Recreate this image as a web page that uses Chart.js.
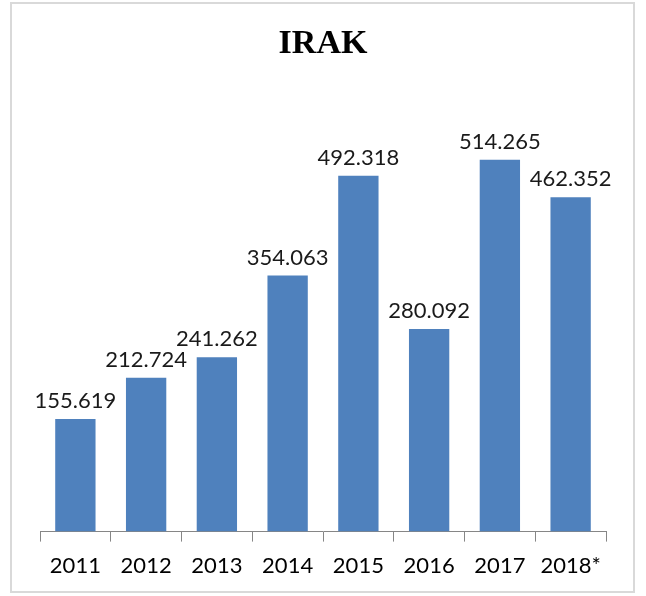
<!DOCTYPE html>
<html><head><meta charset="utf-8">
<script src="https://cdn.jsdelivr.net/npm/chart.js@4"></script>
<style>html,body{margin:0;padding:0;background:#fff}#wrap{width:646px;height:596px;position:relative}</style>
</head><body><div id="wrap"><canvas id="c" width="646" height="596"></canvas></div>
<script>
const categories = ['2011','2012','2013','2014','2015','2016','2017','2018*'];
const values = [155.619, 212.724, 241.262, 354.063, 492.318, 280.092, 514.265, 462.352];
const valueLabels = ['155.619','212.724','241.262','354.063','492.318','280.092','514.265','462.352'];
const titleText = 'IRAK';

const frame = {
  id: 'frame',
  beforeDraw(chart) {
    const ctx = chart.ctx;
    ctx.save();
    ctx.fillStyle = '#fff';
    ctx.fillRect(0, 0, chart.width, chart.height);
    ctx.strokeStyle = '#d9d9d9';
    ctx.lineWidth = 2;
    ctx.strokeRect(11, 3, 623, 589);
    ctx.restore();
  }
};
const labelsPlugin = {
  id: 'vlabels',
  afterDatasetsDraw(chart) {
    const ctx = chart.ctx;
    const meta = chart.getDatasetMeta(0);
    ctx.save();
    ctx.font = '22px Lato';
    ctx.fillStyle = '#1a1a1a';
    ctx.textAlign = 'center';
    ctx.textBaseline = 'bottom';
    meta.data.forEach((bar, i) => {
      ctx.fillText(valueLabels[i], bar.x, bar.y - 7);
    });
    ctx.restore();
  }
};

new Chart(document.getElementById('c'), {
  type: 'bar',
  data: {
    labels: categories,
    datasets: [{
      data: values,
      backgroundColor: '#4F81BD',
      borderWidth: 0,
      categoryPercentage: 1,
      barPercentage: 0.57
    }]
  },
  options: {
    responsive: false,
    animation: false,
    devicePixelRatio: 1,
    layout: { padding: { left: 40, right: 40, top: 0, bottom: 6 } },
    plugins: {
      legend: { display: false },
      tooltip: { enabled: false },
      title: {
        display: true,
        text: titleText,
        color: '#000',
        font: { family: 'Liberation Serif', size: 34, weight: 'bold' },
        padding: { top: 24, bottom: 33 }
      }
    },
    scales: {
      y: { display: false, min: 0, max: 600 },
      x: {
        offset: true,
        grid: { display: true, drawOnChartArea: false, drawTicks: true, tickLength: 10, color: '#868686', offset: true },
        border: { display: true, color: '#868686', width: 1 },
        ticks: { color: '#000', font: { family: 'Lato', size: 22 }, padding: 11, maxRotation: 0 }
      }
    }
  },
  plugins: [frame, labelsPlugin]
});
</script></body></html>
